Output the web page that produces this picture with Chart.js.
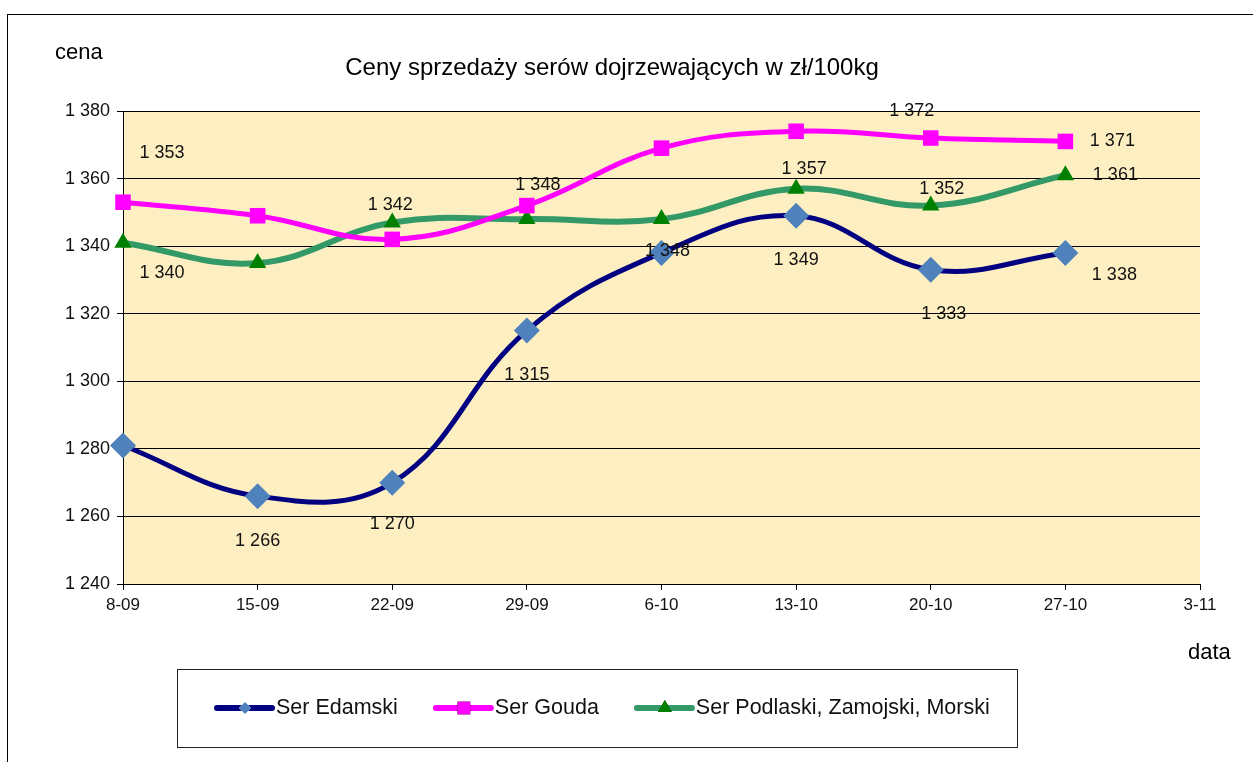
<!DOCTYPE html>
<html lang="pl">
<head>
<meta charset="utf-8">
<title>Ceny sprzedaży serów dojrzewających</title>
<script src="https://cdn.jsdelivr.net/npm/chart.js@4.4.1/dist/chart.umd.min.js"></script>
<style>
  html, body { margin: 0; padding: 0; background: #fff; }
  #wrap { position: relative; width: 1253px; height: 762px; overflow: hidden; }
  #frame { position: absolute; left: 7px; top: 14px; width: 1300px; height: 800px; border: 1px solid #000; box-sizing: border-box; pointer-events: none; }
  canvas { position: absolute; left: 0; top: 0; }
</style>
</head>
<body>
<div id="wrap">
  <canvas id="chart" width="1253" height="762"></canvas>
  <div id="frame"></div>
</div>
<script>
// dane
const categories = ['8-09', '15-09', '22-09', '29-09', '6-10', '13-10', '20-10', '27-10', '3-11'];
const seriesNames = ['Ser Edamski', 'Ser Gouda', 'Ser Podlaski, Zamojski, Morski'];
const edamski = [1281, 1266, 1270, 1315, 1338, 1349, 1333, 1338, null];
const gouda = [1353, 1349, 1342, 1352, 1369, 1374, 1372, 1371, null];
const podlaski = [1341, 1335, 1347, 1348, 1348, 1357, 1352, 1361, null];
// etykiety danych tak jak na oryginale
const edamskiLabels = [null, '1 266', '1 270', '1 315', null, '1 349', '1 333', '1 338', null];
const goudaLabels = ['1 353', null, null, null, null, null, '1 372', '1 371', null];
const podlaskiLabels = ['1 340', null, '1 342', '1 348', '1 348', '1 357', '1 352', '1 361', null];
const yTicks = [1240, 1260, 1280, 1300, 1320, 1340, 1360, 1380];

const FONT = '"Liberation Sans", Arial, sans-serif';

// przesunięcia etykiet względem punktów (styl)
const labelOffsets = [
    [null, [0, 45], [0, 41], [0, 44], null, [0, 44], [13, 44], [49, 22], null],
    [[39, -49], null, null, null, null, null, [-19, -27], [47, 0], null],
    [[39, 30], null, [-2, -17], [11, -34], [6, 32], [8, -20], [11, -17], [50, 0], null]
];
const allLabels = [edamskiLabels, goudaLabels, podlaskiLabels];

const plotBackground = {
    id: 'plotBackground',
    beforeDraw(chart) {
        const { ctx, chartArea: a } = chart;
        ctx.save();
        ctx.fillStyle = '#FEEFC2';
        ctx.fillRect(a.left, a.top, a.right - a.left, a.bottom - a.top);
        ctx.restore();
    }
};

const dataLabels = {
    id: 'dataLabels',
    afterDatasetsDraw(chart) {
        const ctx = chart.ctx;
        ctx.save();
        ctx.font = '18px ' + FONT;
        ctx.fillStyle = '#111';
        ctx.textAlign = 'center';
        ctx.textBaseline = 'middle';
        chart.data.datasets.forEach((ds, i) => {
            const meta = chart.getDatasetMeta(i);
            allLabels[i].forEach((txt, j) => {
                if (!txt) return;
                const pt = meta.data[j];
                const off = labelOffsets[i][j] || [0, 0];
                ctx.fillText(txt, pt.x + off[0], pt.y + off[1]);
            });
        });
        ctx.restore();
    }
};

const extraText = {
    id: 'extraText',
    afterDraw(chart) {
        const ctx = chart.ctx;
        ctx.save();
        ctx.fillStyle = '#000';
        ctx.textBaseline = 'middle';
        ctx.textAlign = 'center';
        ctx.font = '24px ' + FONT;
        ctx.fillText('Ceny sprzedaży serów dojrzewających w zł/100kg', 612, 68);
        ctx.textAlign = 'left';
        ctx.font = '22px ' + FONT;
        ctx.fillText('cena', 55, 53);
        ctx.fillText('data', 1188, 653);

        // legenda
        const box = { x: 177, y: 669, w: 840, h: 78 };
        ctx.fillStyle = '#fff';
        ctx.fillRect(box.x, box.y, box.w, box.h);
        ctx.strokeStyle = '#222';
        ctx.lineWidth = 1;
        ctx.strokeRect(box.x + 0.5, box.y + 0.5, box.w, box.h);

        const cy = 708;
        let x = 217;
        ctx.font = '21.5px ' + FONT;
        chart.data.datasets.forEach((ds) => {
            ctx.strokeStyle = ds.borderColor;
            ctx.lineWidth = 6;
            ctx.lineCap = 'round';
            ctx.beginPath();
            ctx.moveTo(x, cy);
            ctx.lineTo(x + 55, cy);
            ctx.stroke();
            Chart.helpers.drawPoint(ctx, {
                pointStyle: ds.pointStyle,
                radius: ds.legendRadius,
                borderWidth: 0
            }, x + 28, cy);
            ctx.fillStyle = ds.pointBackgroundColor;
            ctx.fill();
            ctx.fillStyle = '#111';
            ctx.fillText(ds.label, x + 59, cy);
            x += 59 + ctx.measureText(ds.label).width + 38;
        });
        ctx.restore();
    }
};

const fmt = v => String(v).replace(/\B(?=(\d{3})+(?!\d))/g, ' ');

new Chart(document.getElementById('chart'), {
    type: 'line',
    data: {
        labels: categories,
        datasets: [
            {
                label: seriesNames[0],
                data: edamski,
                borderColor: '#000080',
                borderWidth: 5,
                pointStyle: 'rectRot',
                pointRadius: 13,
                pointBackgroundColor: '#4F81BD',
                pointBorderWidth: 0,
                legendRadius: 6,
                tension: 0.4
            },
            {
                label: seriesNames[1],
                data: gouda,
                borderColor: '#FF00FF',
                borderWidth: 5,
                pointStyle: 'rect',
                pointRadius: 11,
                pointBackgroundColor: '#FF00FF',
                pointBorderWidth: 0,
                legendRadius: 9,
                tension: 0.4
            },
            {
                label: seriesNames[2],
                data: podlaski,
                borderColor: '#339966',
                borderWidth: 6,
                pointStyle: 'triangle',
                pointRadius: 10,
                pointBackgroundColor: '#008000',
                pointBorderWidth: 0,
                legendRadius: 8,
                tension: 0.4
            }
        ]
    },
    options: {
        responsive: false,
        animation: false,
        devicePixelRatio: 1,
        layout: { padding: { left: 0, top: 111, right: 53, bottom: 138 } },
        plugins: {
            legend: { display: false },
            tooltip: { enabled: false }
        },
        scales: {
            x: {
                offset: false,
                grid: { drawOnChartArea: false, color: '#000', tickLength: 6 },
                border: { color: '#000', width: 1 },
                ticks: { color: '#111', font: { family: FONT, size: 17 }, padding: 5, maxRotation: 0, autoSkip: false },
                afterFit: s => { s.height = 40; }
            },
            y: {
                min: 1240,
                max: 1380,
                afterBuildTicks: s => { s.ticks = yTicks.map(v => ({ value: v })); },
                grid: { color: '#000', tickLength: 6 },
                border: { color: '#000', width: 1 },
                ticks: { color: '#111', font: { family: FONT, size: 18 }, padding: 7, callback: v => fmt(v) },
                afterFit: s => { s.width = 123; }
            }
        }
    },
    plugins: [plotBackground, dataLabels, extraText]
});
</script>
</body>
</html>
